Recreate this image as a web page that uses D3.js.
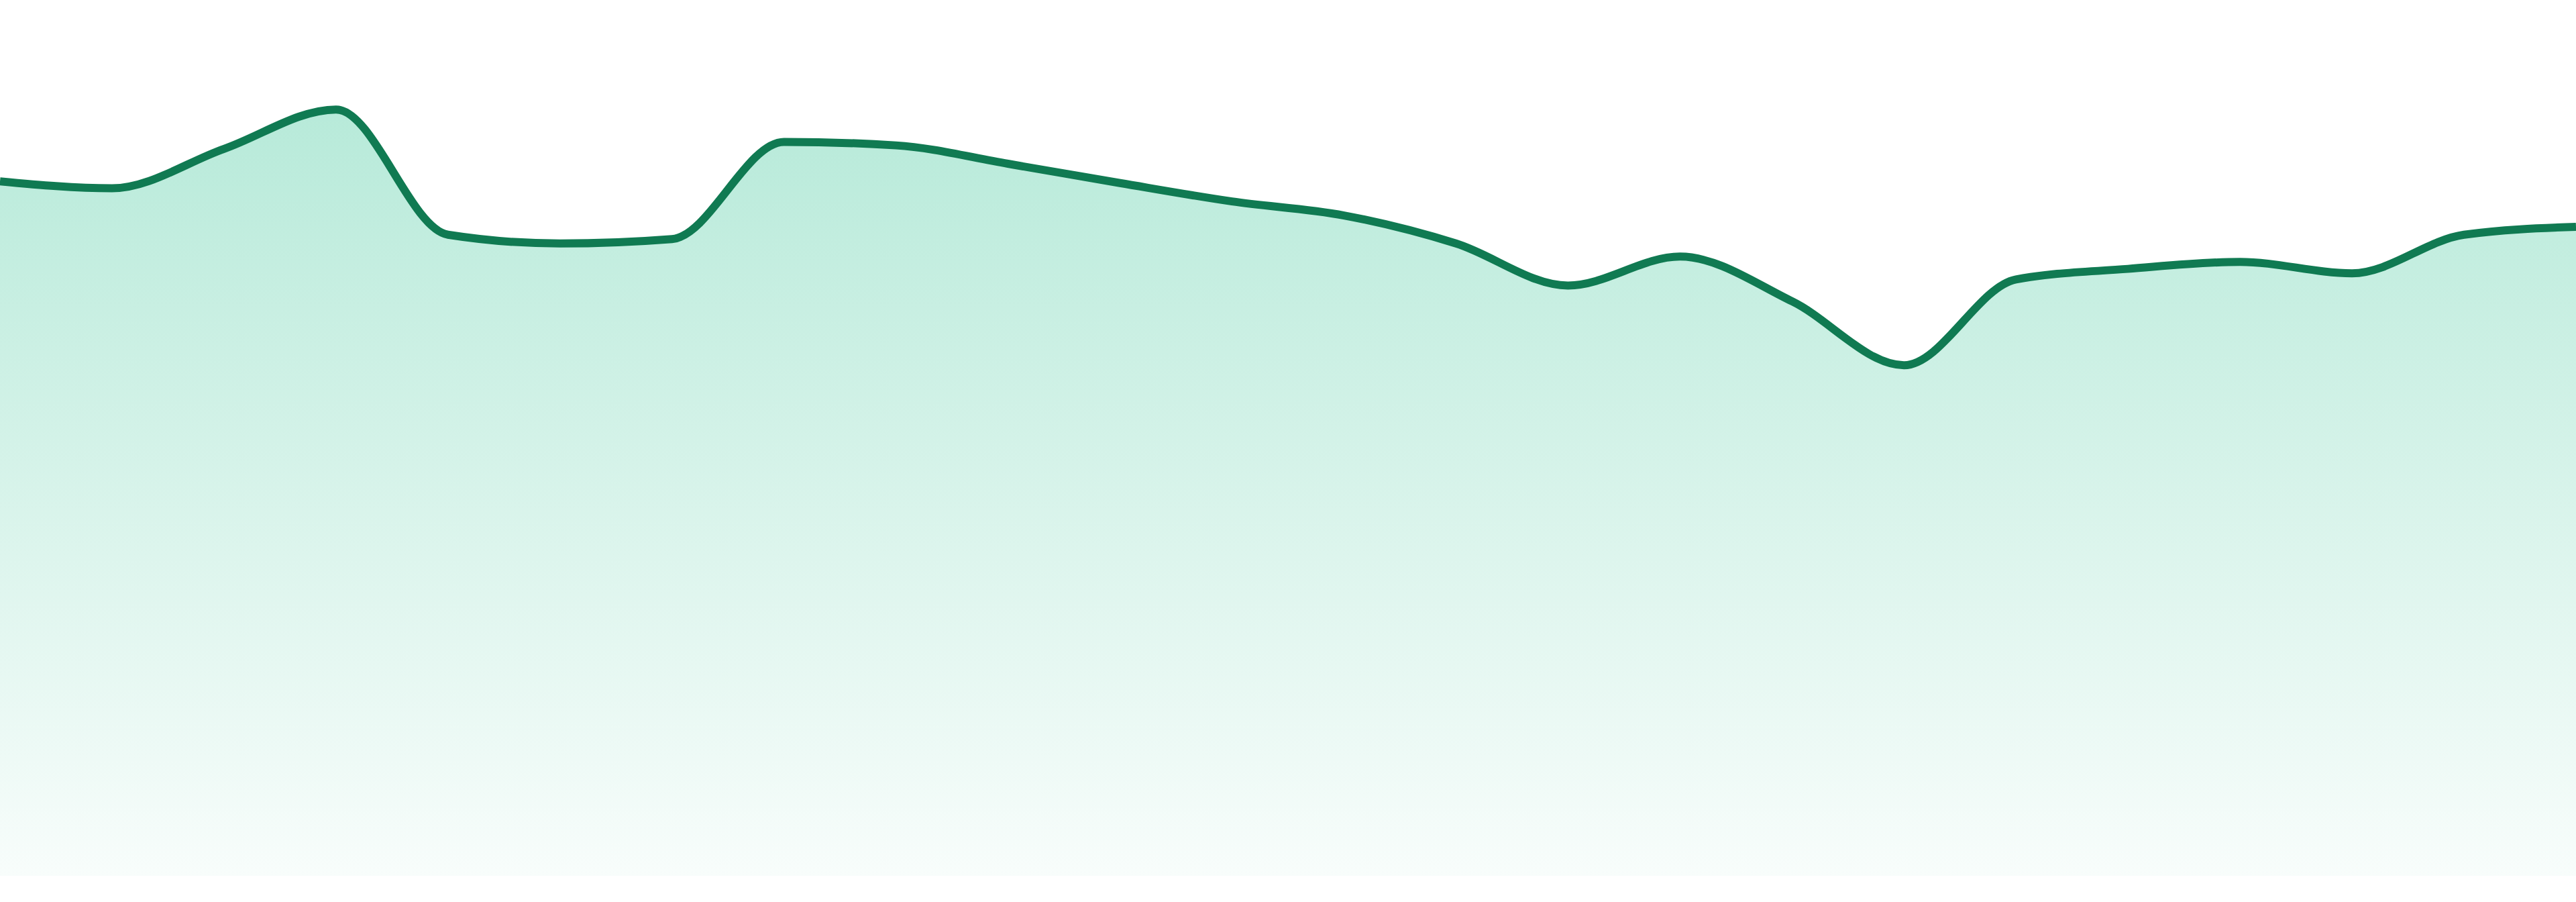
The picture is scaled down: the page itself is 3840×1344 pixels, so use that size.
<!DOCTYPE html>
<html>
<head>
<meta charset="utf-8">
<script src="https://cdn.jsdelivr.net/npm/d3@7"></script>
<style>
  body { margin: 0; background: #fff; }
  svg { display: block; }
</style>
</head>
<body>
<div id="chart"></div>
<script>
// values (0 at the bottom of the area, 100 at the top edge)
const values = [79.3, 78.5, 83.0, 87.5, 73.2, 72.2, 72.7, 83.8, 83.4, 81.3, 79.1, 77.0,
  75.4, 72.2, 67.4, 70.7, 65.6, 58.3, 68.1, 69.3, 70.1, 68.8, 73.2, 74.1];

const width = 3840,
  height = 1344,
  baseline = 1305;

const svg = d3.select("#chart").append("svg")
  .attr("width", width)
  .attr("height", height);

const x = d3.scaleLinear()
  .domain([0, values.length - 1])
  .range([0, width]);

const y = d3.scaleLinear()
  .domain([0, 100])
  .range([baseline, 0]);

// soft green fade under the line
const grad = svg.append("defs").append("linearGradient")
  .attr("id", "fade")
  .attr("gradientUnits", "userSpaceOnUse")
  .attr("x1", 0).attr("x2", 0)
  .attr("y1", y(d3.max(values))).attr("y2", baseline);
grad.append("stop").attr("offset", "0%").attr("stop-color", "#10b981").attr("stop-opacity", 0.3);
grad.append("stop").attr("offset", "100%").attr("stop-color", "#10b981").attr("stop-opacity", 0.03);

const area = d3.area()
  .x((d, i) => x(i))
  .y0(baseline)
  .y1(d => y(d))
  .curve(d3.curveMonotoneX);

const line = d3.line()
  .x((d, i) => x(i))
  .y(d => y(d))
  .curve(d3.curveMonotoneX);

svg.append("path")
  .datum(values)
  .attr("d", area)
  .attr("fill", "url(#fade)");

svg.append("path")
  .datum(values)
  .attr("d", line)
  .attr("fill", "none")
  .attr("stroke", "#107a52")
  .attr("stroke-width", 12)
  .attr("stroke-linejoin", "round");
</script>
</body>
</html>
